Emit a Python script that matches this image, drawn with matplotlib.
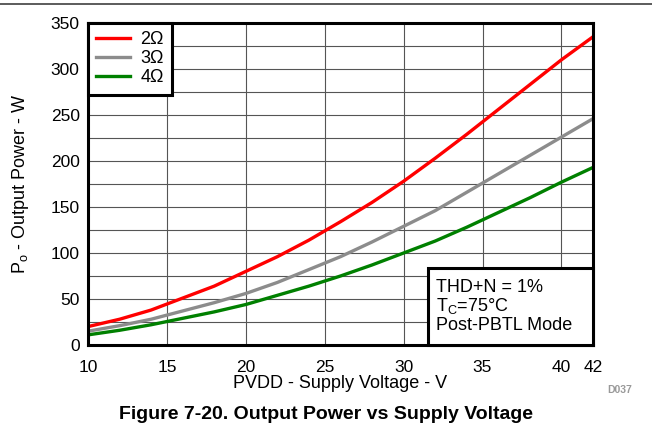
import numpy as np
from matplotlib import pyplot as plt
from matplotlib.ticker import MultipleLocator
from matplotlib.patches import Rectangle

plt.rcParams['font.family'] = ['Liberation Sans', 'DejaVu Sans']
plt.rcParams['mathtext.fontset'] = 'custom'
plt.rcParams['mathtext.rm'] = 'Liberation Sans'

# supply voltage (V) and output power (W)
pvdd = [10, 12, 14, 16, 18, 20, 22, 24, 26, 28, 30, 32, 34, 36, 38, 40, 42]
p_2ohm = [20, 28, 38, 51, 64, 80, 96, 114, 134, 155, 178, 203, 229, 256, 283, 310, 335]
p_3ohm = [15, 21, 28, 37, 46, 56, 68, 82, 96, 112, 129, 146, 166, 186, 206, 226, 246]
p_4ohm = [11, 16, 22, 29, 36, 44, 54, 64, 75, 87, 100, 113, 128, 144, 160, 177, 193]

fig = plt.figure(figsize=(6.52, 4.23), dpi=100)
ax = fig.add_axes([88/652, 1-345/423, 505/652, 322/423])

ax.plot(pvdd, p_2ohm, color='#ff0000', lw=2.4, label='2\u03a9')
ax.plot(pvdd, p_3ohm, color='#8c8c8c', lw=2.4, label='3\u03a9')
ax.plot(pvdd, p_4ohm, color='#008000', lw=2.4, label='4\u03a9')

ax.set_xlim(10, 42)
ax.set_ylim(0, 350)
ax.set_xticks([10, 15, 20, 25, 30, 35, 40, 42])
ax.yaxis.set_major_locator(MultipleLocator(50))
ax.yaxis.set_minor_locator(MultipleLocator(25))
ax.grid(True, which='both', color='#555555', lw=0.8)
ax.tick_params(which='both', length=0, labelsize=12.5)
ax.tick_params(axis='x', pad=11)
ax.tick_params(axis='y', pad=6)
for s in ax.spines.values():
    s.set_linewidth(2.2)

ax.set_xlabel('PVDD - Supply Voltage - V', fontsize=13, labelpad=0)
ax.set_ylabel('P$_\\mathrm{o}$ - Output Power - W', fontsize=13, labelpad=14)

leg = ax.legend(loc='upper left', fontsize=13, frameon=True, fancybox=False,
                borderaxespad=0, handlelength=1.9, labelspacing=0.12,
                borderpad=0.45, handletextpad=0.55)
leg.get_frame().set_edgecolor('black')
leg.get_frame().set_linewidth(2.2)
leg.get_frame().set_alpha(1)

box = Rectangle((0.673, 0), 0.327, 0.239, transform=ax.transAxes,
                fc='white', ec='black', lw=2.2, zorder=5, clip_on=False)
ax.add_patch(box)
ax.text(0.69, 0.12, 'THD+N = 1%\nT$_\\mathrm{C}$=75°C\nPost-PBTL Mode',
        transform=ax.transAxes, ha='left', va='center', fontsize=13,
        linespacing=1.05, zorder=6)

fig.text(620/652, 1-390/423, 'D037', fontsize=7.5, color='#999999',
         ha='center', va='center', fontweight='bold')
fig.text(0.5, 1-414/423, 'Figure 7-20. Output Power vs Supply Voltage',
         fontsize=14, fontweight='bold', ha='center', va='center')
fig.add_artist(plt.Line2D([0, 1], [1-4/423, 1-4/423], color='#404040', lw=1.2))

plt.savefig('out.png', dpi=100)
